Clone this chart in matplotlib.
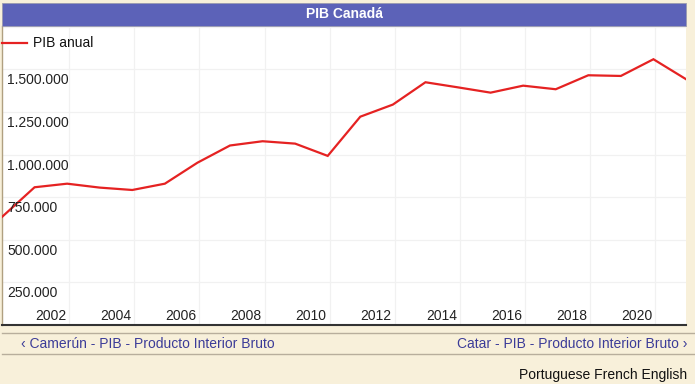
import matplotlib
matplotlib.use("Agg")
import matplotlib.pyplot as plt
from matplotlib.patches import Rectangle
from matplotlib.lines import Line2D
import matplotlib.transforms as mtransforms

plt.rcParams['font.family'] = ['Liberation Sans', 'DejaVu Sans']

years = [2000, 2001, 2002, 2003, 2004, 2005, 2006, 2007, 2008, 2009, 2010,
         2011, 2012, 2013, 2014, 2015, 2016, 2017, 2018, 2019, 2020, 2021]
pib = [634000, 808000, 829000, 806000, 792000, 829000, 952000, 1053000,
       1078000, 1064000, 992000, 1222000, 1293000, 1424000, 1394000,
       1363000, 1404000, 1383000, 1465000, 1461000, 1559000, 1442000]
x_ticks = [2002, 2004, 2006, 2008, 2010, 2012, 2014, 2016, 2018, 2020]
y_ticks = [250000, 500000, 750000, 1000000, 1250000, 1500000]
y_labels = ['250.000', '500.000', '750.000', '1.000.000', '1.250.000', '1.500.000']
title = 'PIB Canadá'
series_name = 'PIB anual'
link_prev = '‹ Camerún - PIB - Producto Interior Bruto'
link_next = 'Catar - PIB - Producto Interior Bruto ›'
langs = 'Portuguese French English'

W, H = 695, 384
cream = '#f8f0da'
bar_col = '#5c62b8'
link_col = '#3c3c98'
red = '#e52222'
grid_col = '#f1f1f1'

fig = plt.figure(figsize=(W / 100, H / 100), dpi=100)
fig.patch.set_facecolor(cream)

def fx(px):
    return px / W

def fy(py):
    return 1 - py / H

ax_l, ax_r, ax_t, ax_b = 2, 686, 26, 325
ax = fig.add_axes([fx(ax_l), fy(ax_b), fx(ax_r - ax_l), (ax_b - ax_t) / H])
ax.set_facecolor('white')

ax.plot(years, pib, color=red, lw=1.6, solid_joinstyle='miter', label=series_name, zorder=3, clip_on=True)
ax.set_xlim(2000, 2021)
ax.set_ylim(0, 1754000)

off = 0.06
ax.set_xticks([t + off for t in x_ticks])
ax.set_yticks(y_ticks + [1750000])
ax.grid(True, color=grid_col, lw=0.9, zorder=0)
ax.tick_params(length=0, labelbottom=False, labelleft=False)
for s in ['top', 'right']:
    ax.spines[s].set_visible(False)
ax.spines['left'].set_color('#b0a080')
ax.spines['left'].set_linewidth(1.0)
ax.spines['bottom'].set_color('#333333')
ax.spines['bottom'].set_linewidth(1.5)

# x tick labels: right-aligned just left of gridline
tx = mtransforms.blended_transform_factory(ax.transData, ax.transAxes)
for t in x_ticks:
    ax.text(t + off, 0, str(t), transform=tx + mtransforms.ScaledTranslation(-3 / 100, 8.5 / 100, fig.dpi_scale_trans),
            ha='right', va='center', fontsize=10, color='#222222')

ty = mtransforms.blended_transform_factory(ax.transAxes, ax.transData)
for v, lab in zip(y_ticks, y_labels):
    ax.text(0, v, lab, transform=ty + mtransforms.ScaledTranslation(5 / 100, -11 / 100, fig.dpi_scale_trans),
            ha='left', va='center', fontsize=10, color='#222222')

leg = ax.legend(loc='upper left', bbox_to_anchor=(0.0, 0.965), frameon=False, fontsize=10,
                handlelength=1.8, handletextpad=0.45, borderaxespad=0.0, borderpad=0.0)
for t in leg.get_texts():
    t.set_color('#111111')

# title bar
fig.patches.append(Rectangle((fx(2), fy(26)), fx(684), 23 / H, transform=fig.transFigure,
                             facecolor=bar_col, edgecolor='#9a9ab0', lw=0.6, zorder=5))
fig.text(fx(344), fy(14.5), title, ha='center', va='center', fontsize=10, fontweight='bold',
         color='white', zorder=6)

# separators and links
for yy in (332.5, 353.5):
    fig.add_artist(Line2D([fx(2), fx(695)], [fy(yy), fy(yy)], color='#b8ae9c', lw=1.0,
                          transform=fig.transFigure))
fig.text(fx(21), fy(343.5), link_prev, ha='left', va='center', fontsize=10, color=link_col)
fig.text(fx(687), fy(343.5), link_next, ha='right', va='center', fontsize=10, color=link_col)
fig.text(fx(687), fy(375), langs, ha='right', va='center', fontsize=10, color='#111111')

fig.savefig('out.png', dpi=100, facecolor=cream)
